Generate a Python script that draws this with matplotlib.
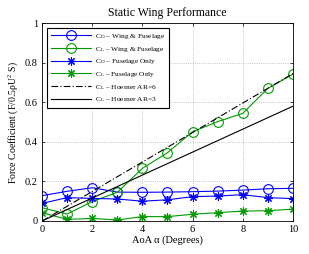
import matplotlib
matplotlib.use("Agg")
import matplotlib.pyplot as plt

plt.rcParams['font.family'] = ['Liberation Serif', 'DejaVu Serif']
plt.rcParams['mathtext.fontset'] = 'stix'

# data
aoa = [0, 1, 2, 3, 4, 5, 6, 7, 8, 9, 10]
cd_wing = [0.128, 0.150, 0.168, 0.146, 0.145, 0.146, 0.148, 0.151, 0.156, 0.163, 0.165]
cl_wing = [0.067, 0.035, 0.098, 0.145, 0.266, 0.345, 0.451, 0.502, 0.544, 0.670, 0.742]
cd_fus = [0.089, 0.118, 0.114, 0.111, 0.100, 0.107, 0.123, 0.126, 0.133, 0.118, 0.113]
cl_fus = [0.042, 0.008, 0.013, 0.005, 0.022, 0.022, 0.034, 0.042, 0.050, 0.052, 0.060]
hoerner_aoa = [0, 10]
hoerner_ar6 = [0, 0.745]
hoerner_ar3 = [0, 0.58]

BLUE = (0, 0, 1)
GREEN = (0, 0.6, 0)
STAR = (8, 2, 0)

fig = plt.figure(figsize=(3.09, 2.54), dpi=100)
ax = fig.add_axes([0.136, 0.13, 0.812, 0.779])

ax.plot(aoa, cd_wing, '-o', color=BLUE, mfc='none', ms=7, lw=0.8, mew=0.8,
        label=r'C$_\mathregular{D}$ – Wing & Fuselage')
ax.plot(aoa, cl_wing, '-o', color=GREEN, mfc='none', ms=7, lw=0.8, mew=0.8,
        label=r'C$_\mathregular{L}$ – Wing & Fuselage')
ax.plot(aoa, cd_fus, '-', marker=STAR, color=BLUE, ms=6, lw=0.8, mew=0.8,
        label=r'C$_\mathregular{D}$ – Fuselage Only')
ax.plot(aoa, cl_fus, '-', marker=STAR, color=GREEN, ms=6, lw=0.8, mew=0.8,
        label=r'C$_\mathregular{L}$ – Fuselage Only')
ax.plot(hoerner_aoa, hoerner_ar6, color='black', lw=0.8,
        linestyle=(0, (6, 2, 1, 2)), label=r'C$_\mathregular{L}$ – Hoerner AR=6')
ax.plot(hoerner_aoa, hoerner_ar3, '-', color='black', lw=0.8,
        label=r'C$_\mathregular{L}$ – Hoerner AR=3')

ax.set_xlim(0, 10)
ax.set_ylim(0, 1)
ax.set_xticks([0, 2, 4, 6, 8, 10])
ax.set_yticks([0, 0.2, 0.4, 0.6, 0.8, 1])
ax.set_yticklabels(['0', '0.2', '0.4', '0.6', '0.8', '1'])
ax.tick_params(direction='in', labelsize=7.5, length=2, width=0.5,
               top=True, right=True, pad=3)
ax.grid(True, linestyle=':', color='#b0b0b0', linewidth=0.6)
for s in ax.spines.values():
    s.set_linewidth(0.6)

ax.set_title('Static Wing Performance', fontsize=8.5, pad=5)
ax.set_xlabel('AoA α (Degrees)', fontsize=7.5, labelpad=1)
ax.set_ylabel(r'Force Coefficient (F/0.5ρU$^\mathregular{2}$ S)', fontsize=7, labelpad=3)

leg = ax.legend(loc='upper left', fontsize=5.3, handlelength=5.4,
                borderaxespad=0.7, labelspacing=0.5, fancybox=False,
                edgecolor='black', framealpha=1, borderpad=0.5,
                handletextpad=0.6)
leg.get_frame().set_linewidth(0.8)

fig.savefig('out.png', dpi=100, facecolor='white')
